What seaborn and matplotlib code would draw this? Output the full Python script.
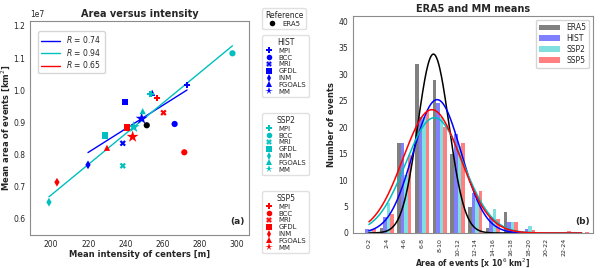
import numpy as np
import pandas as pd
import matplotlib
matplotlib.use("Agg")
import matplotlib.pyplot as plt
import seaborn as sns
from matplotlib.lines import Line2D

sns.set_style("white")
plt.rcParams["font.family"] = ["DejaVu Sans"]

# ---------------- data: panel (a) ----------------
models = ["MPI", "BCC", "MRI", "GFDL", "INM", "FGOALS"]
hist_intensity = [273.2, 266.5, 238.6, 239.9, 219.9, 254.4]
hist_area = [1.015e7, 0.895e7, 0.835e7, 0.964e7, 0.768e7, 0.992e7]
ssp2_intensity = [253.5, 297.6, 238.6, 229.1, 198.9, 249.3]
ssp2_area = [0.987e7, 1.1146e7, 0.765e7, 0.859e7, 0.652e7, 0.935e7]
ssp5_intensity = [257.1, 271.7, 260.5, 240.8, 203.2, 230.1]
ssp5_area = [0.975e7, 0.807e7, 0.930e7, 0.884e7, 0.714e7, 0.821e7]
era5_intensity = [251.5]
era5_area = [0.891e7]
r_labels = ["0.74", "0.94", "0.65"]

# ---------------- data: panel (b) ----------------
bins = ["0-2", "2-4", "4-6", "6-8", "8-10", "10-12", "12-14", "14-16",
        "16-18", "18-20", "20-22", "22-24", "24-26"]
tick_labels = bins[:12]
era5_counts = [0.0, 1.0, 17.0, 32.0, 29.0, 15.0, 5.0, 1.0, 4.0, 0.0, 0.0, 0.0, 0.0]
hist_counts = [0.7, 3.0, 17.0, 22.0, 24.5, 18.7, 7.5, 3.0, 2.0, 0.7, 0.1, 0.0, 0.0]
ssp2_counts = [0.5, 5.7, 11.0, 22.0, 22.0, 16.5, 6.5, 4.5, 2.0, 1.3, 0.1, 0.1, 0.0]
ssp5_counts = [0.7, 3.5, 14.8, 23.0, 20.0, 17.0, 8.0, 2.7, 2.0, 0.6, 0.2, 0.3, 0.2]
# normal-fit curves (centre in bin index, sigma in bins, peak height)
fit_names = ["ERA5", "HIST", "SSP2", "SSP5"]
fit_centre = [3.64, 3.85, 3.70, 3.55]
fit_sigma = [0.88, 1.35, 1.62, 1.62]
fit_peak = [33.8, 25.2, 21.8, 23.3]

scen_colors = {"HIST": "blue", "SSP2": "c", "SSP5": "red"}
marker_map = {"MPI": "P", "BCC": "o", "MRI": "X", "GFDL": "s", "INM": "d",
              "FGOALS": "^", "MM": "*"}

fig = plt.figure(figsize=(6, 2.68), dpi=100)
axA = fig.add_axes([30 / 600, 1 - 235 / 268, 219 / 600, 214 / 268])
axB = fig.add_axes([353 / 600, 1 - 233 / 268, 240 / 600, 217 / 268])

# ---------------- panel (a) ----------------
rows = []
scen_data = {"HIST": (hist_intensity, hist_area),
             "SSP2": (ssp2_intensity, ssp2_area),
             "SSP5": (ssp5_intensity, ssp5_area)}
for scen, (xi, ya) in scen_data.items():
    for m, x, y in zip(models, xi, ya):
        rows.append(dict(scen=scen, model=m, x=x, y=y, mm=False))
    rows.append(dict(scen=scen, model="MM", x=np.mean(xi), y=np.mean(ya), mm=True))
rows.append(dict(scen="ERA5", model="ERA5", x=era5_intensity[0], y=era5_area[0], mm=False))
dfA = pd.DataFrame(rows)

line_handles = []
for scen, lab in zip(["HIST", "SSP2", "SSP5"], r_labels):
    xi, ya = scen_data[scen]
    xi = np.array(xi); ya = np.array(ya)
    if scen != "SSP5":
        k, b = np.polyfit(xi, ya, 1)
        xx = np.array([xi.min(), xi.max()])
        axA.plot(xx, k * xx + b, color=scen_colors[scen], lw=1, zorder=1)
    line_handles.append(Line2D([], [], color=scen_colors[scen], lw=1,
                               label=f"$R$ = {lab}"))

palette = dict(scen_colors); palette["ERA5"] = "black"
markers = dict(marker_map); markers["ERA5"] = "o"
sns.scatterplot(data=dfA, x="x", y="y", hue="scen", style="model", size="mm",
                sizes={False: 20, True: 80}, palette=palette, markers=markers,
                linewidth=0, legend=False, ax=axA, zorder=3)

axA.set_xlim(188.7, 306.5)
axA.set_ylim(0.55e7, 1.215e7)
axA.set_xticks([200, 220, 240, 260, 280, 300])
axA.set_yticks([0.6e7, 0.7e7, 0.8e7, 0.9e7, 1.0e7, 1.1e7, 1.2e7])
axA.set_title("Area versus intensity", fontsize=7, fontweight="bold", pad=3)
axA.set_xlabel("Mean intensity of centers [m]", fontsize=6, fontweight="bold", labelpad=1)
axA.set_ylabel("Mean area of events [km$^2$]", fontsize=6, fontweight="bold", labelpad=1)
axA.tick_params(labelsize=5.5, length=2, pad=1.5)
axA.yaxis.get_offset_text().set_fontsize(5.5)
axA.text(0.98, 0.04, "(a)", transform=axA.transAxes, ha="right", va="bottom",
         fontsize=6.5, fontweight="bold")
axA.legend(handles=line_handles, loc="upper left", fontsize=5.5, labelspacing=0.2,
           handlelength=2.5, borderpad=0.4, bbox_to_anchor=(0.02, 0.97))

def leg(title, scen, entries, y_top):
    hs = []
    for e in entries:
        col = "black" if scen == "ERA5" else scen_colors[scen]
        mk = "o" if scen == "ERA5" else marker_map[e]
        ms = 5.5 if e == "MM" else 4
        hs.append(Line2D([], [], color=col, marker=mk, ls="", markersize=ms,
                         markeredgewidth=0, label=e))
    L = fig.legend(handles=hs, title=title, loc="upper left",
                   bbox_to_anchor=(259 / 600, 1 - y_top / 268), fontsize=5,
                   title_fontsize=5.5, labelspacing=0.12, handletextpad=0.8,
                   borderpad=0.35, handlelength=1.2, frameon=True)
    L.get_frame().set_edgecolor("0.85")
    return L

leg("Reference", "ERA5", ["ERA5"], 5)
leg("HIST", "HIST", models + ["MM"], 32)
leg("SSP2", "SSP2", models + ["MM"], 110)
leg("SSP5", "SSP5", models + ["MM"], 188)

# ---------------- panel (b) ----------------
dfB = pd.DataFrame({
    "bin": bins * 4,
    "dataset": ["ERA5"] * len(bins) + ["HIST"] * len(bins) + ["SSP2"] * len(bins) + ["SSP5"] * len(bins),
    "count": era5_counts + hist_counts + ssp2_counts + ssp5_counts,
})
bar_pal = {"ERA5": "#808080", "HIST": "#8080ff", "SSP2": "#80dfdf", "SSP5": "#ff8080"}
sns.barplot(data=dfB, x="bin", y="count", hue="dataset", order=bins,
            hue_order=["ERA5", "HIST", "SSP2", "SSP5"], palette=bar_pal,
            width=0.8, ax=axB, legend=True, saturation=1, linewidth=0,
            edgecolor="none")

curve_cols = ["black", "blue", "c", "red"]
xs = np.linspace(0, 12, 400)
for c, mu, sg, pk in zip(curve_cols, fit_centre, fit_sigma, fit_peak):
    axB.plot(xs, pk * np.exp(-0.5 * ((xs - mu) / sg) ** 2), color=c, lw=1.1)

axB.set_xlim(-0.9, 12.65)
axB.set_ylim(0, 41)
axB.set_xticks(range(12))
axB.set_xticklabels(tick_labels, rotation=90)
axB.set_yticks(range(0, 41, 5))
axB.tick_params(axis="y", labelsize=5.5, length=2, pad=1.5)
axB.tick_params(axis="x", labelsize=4.5, length=2, pad=1.5)
axB.set_title("ERA5 and MM means", fontsize=7, fontweight="bold", pad=3)
axB.set_xlabel("Area of events [x 10$^6$ km$^2$]", fontsize=5.5, fontweight="bold", labelpad=0.5)
axB.set_ylabel("Number of events", fontsize=6, fontweight="bold", labelpad=2)
axB.text(0.985, 0.03, "(b)", transform=axB.transAxes, ha="right", va="bottom",
         fontsize=6.5, fontweight="bold")
axB.legend(loc="upper right", fontsize=5.5, labelspacing=0.25, handlelength=2.8,
           borderpad=0.4, title=None)

for ax in (axA, axB):
    for s in ax.spines.values():
        s.set_color("0.55")
        s.set_linewidth(0.8)

fig.savefig("out.png", dpi=100)
